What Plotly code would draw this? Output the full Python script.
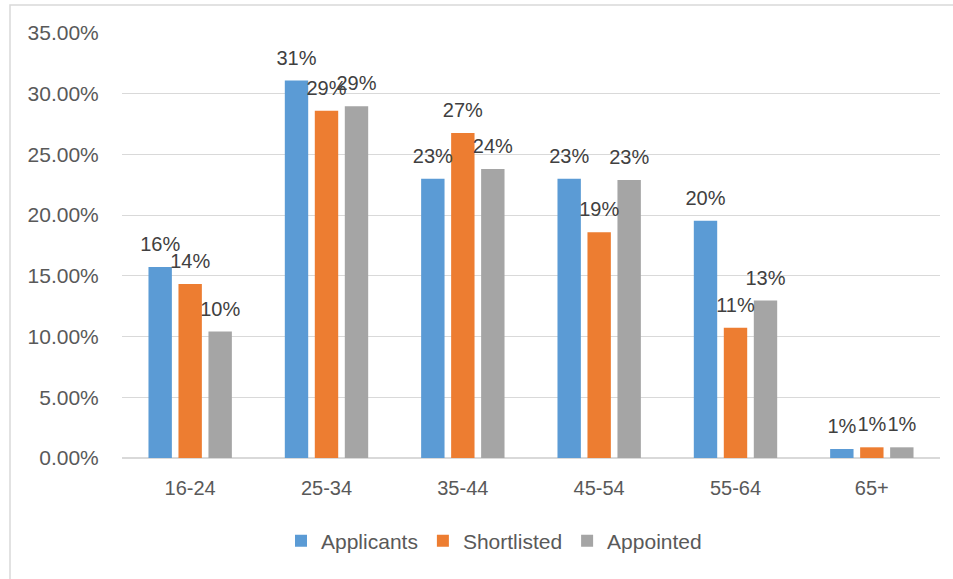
import plotly.graph_objects as go

categories = ["16-24", "25-34", "35-44", "45-54", "55-64", "65+"]
applicants = [0.1572, 0.3108, 0.2300, 0.2300, 0.1954, 0.0074]
shortlisted = [0.1432, 0.2860, 0.2677, 0.1860, 0.1072, 0.0088]
appointed = [0.1041, 0.2896, 0.2380, 0.2290, 0.1297, 0.0088]

series = [
    ("Applicants", applicants, "#5B9BD5"),
    ("Shortlisted", shortlisted, "#ED7D31"),
    ("Appointed", appointed, "#A5A5A5"),
]

FONT = "Liberation Sans"
BARGAP = 0.34

fig = go.Figure()
for name, vals, color in series:
    fig.add_trace(go.Bar(
        name=name, x=categories, y=vals,
        marker=dict(color=color, line=dict(width=0)),
        hoverinfo="skip",
    ))
# data labels (grouped scatter so they sit over their bars)
for name, vals, color in series:
    fig.add_trace(go.Scatter(
        x=categories, y=vals, mode="markers+text", showlegend=False,
        marker=dict(size=16, opacity=0, color=color),
        texttemplate="%{y:.0%}", textposition="top center",
        textfont=dict(family=FONT, size=20, color="#404040"),
        cliponaxis=False, name=name,
    ))

W, H = 953, 579
L, R, T, B = 122, 13, 33, 121
pw, ph = W - L - R, H - T - B

def px(x):
    return (x - L) / pw

def py(y):
    return (H - B - y) / ph

fig.update_layout(
    width=W, height=H,
    margin=dict(l=L, r=R, t=T, b=B),
    paper_bgcolor="white", plot_bgcolor="white",
    barmode="group", bargap=BARGAP, bargroupgap=0.22,
    scattermode="group", scattergap=BARGAP,
    font=dict(family=FONT, size=20, color="#595959"),
    showlegend=True,
    legend=dict(orientation="h", x=px(494), xanchor="center", y=py(541), yanchor="middle",
                font=dict(family=FONT, size=21, color="#595959"),
                itemwidth=30, tracegroupgap=0),
    xaxis=dict(showgrid=False, showline=False, ticks="outside", ticklen=12,
               tickcolor="rgba(0,0,0,0)", tickfont=dict(size=20, color="#595959")),
    yaxis=dict(range=[0, 0.35], dtick=0.05, tickformat=".2%", showgrid=True,
               gridcolor="#D9D9D9", gridwidth=1, zeroline=True, zerolinecolor="#D9D9D9",
               zerolinewidth=1.5, showline=False, ticks="outside", ticklen=18,
               tickcolor="rgba(0,0,0,0)", tickfont=dict(size=21, color="#595959")),
    shapes=[dict(type="rect", xref="paper", yref="paper",
                 x0=px(10), x1=px(1010), y0=py(600), y1=py(5),
                 line=dict(color="#D9D9D9", width=1.5), fillcolor="rgba(0,0,0,0)", layer="below")],
)

fig.write_html("out.html", config={"displayModeBar": False},
               post_script="document.body.style.margin='0';")
